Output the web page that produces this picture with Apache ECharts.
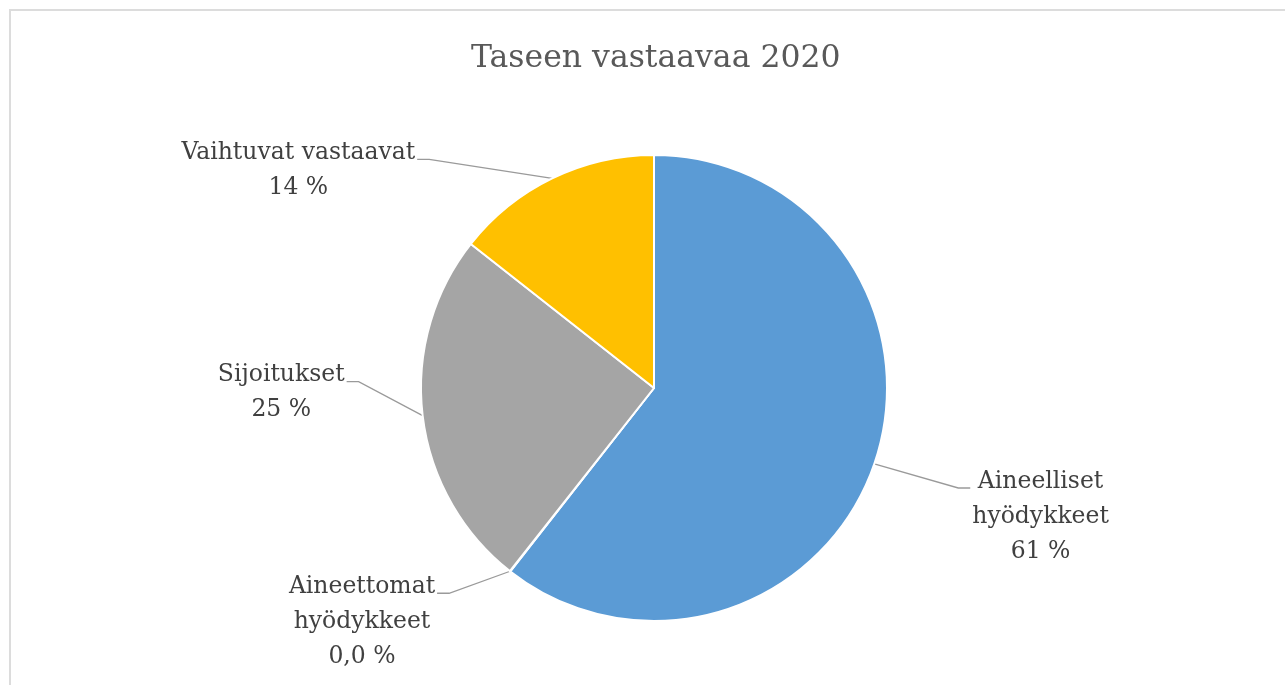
<!DOCTYPE html>
<html>
<head>
<meta charset="utf-8">
<script src="https://cdn.jsdelivr.net/npm/echarts@6/dist/echarts.min.js"></script>
<style>
html,body{margin:0;padding:0;background:#fff;}
#chart{width:1285px;height:685px;}
</style>
</head>
<body>
<div id="chart"></div>
<script>
// ---- data ----
const titleText = 'Taseen vastaavaa 2020';
const categories = ['Aineelliset\nhyödykkeet', 'Aineettomat\nhyödykkeet', 'Sijoitukset', 'Vaihtuvat vastaavat'];
const values = [60.6, 0.04, 25.0, 14.4];
const colors = ['#5B9BD5', '#ED7D31', '#A5A5A5', '#FFC000'];

// ---- label placement style (offset of leader end from slice edge point) ----
const leaderEnd = [[96, 24], [-73, 22], [-76, -34], [-135, -19]];
const stubLen = 12;
const textGap = 2;
const baselineOffset = 24;

const chart = echarts.init(document.getElementById('chart'), null, {renderer: 'canvas'});

const option = {
  backgroundColor: '#fff',
  animation: false,
  title: {
    text: titleText,
    left: 466,
    top: 38,
    textStyle: {
      fontFamily: 'DejaVu Serif',
      fontSize: 31.5,
      fontWeight: 'normal',
      color: '#595959'
    }
  },
  graphic: [{
    type: 'rect',
    shape: {x: 10, y: 10, width: 1300, height: 700},
    style: {fill: 'none', stroke: '#dcdcdc', lineWidth: 2},
    silent: true
  }],
  series: [{
    type: 'pie',
    center: [654, 388],
    radius: 233,
    startAngle: 90,
    clockwise: true,
    avoidLabelOverlap: false,
    itemStyle: {borderColor: '#fff', borderWidth: 2},
    emphasis: {disabled: true},
    label: {
      show: true,
      position: 'outside',
      fontFamily: 'DejaVu Serif',
      fontSize: 23.5,
      lineHeight: 35,
      color: '#404040',
      formatter: function (p) {
        const pct = p.percent < 1 ? p.percent.toFixed(1).replace('.', ',') : Math.round(p.percent).toString();
        return p.name + '\n' + pct + ' %';
      }
    },
    labelLine: {
      show: true,
      length: 20,
      length2: 20,
      lineStyle: {color: '#9A9A9A', width: 1.3}
    },
    labelLayout: function (params) {
      const pts = params.labelLinePoints;
      if (!pts) return {};
      const i = params.dataIndex;
      const p0 = pts[0];
      const off = leaderEnd[i];
      const end = [p0[0] + off[0], p0[1] + off[1]];
      const right = off[0] > 0;
      const stub = [end[0] + (right ? -stubLen : stubLen), end[1]];
      const w = params.labelRect.width;
      const x = right ? end[0] + textGap + w / 2 : end[0] - textGap - w / 2;
      return {
        x: x,
        y: end[1] - baselineOffset,
        align: 'center',
        verticalAlign: 'top',
        labelLinePoints: [p0, stub, end]
      };
    },
    data: categories.map(function (c, i) {
      return {name: c, value: values[i], itemStyle: {color: colors[i]}};
    })
  }]
};
chart.setOption(option);
</script>
</body>
</html>
